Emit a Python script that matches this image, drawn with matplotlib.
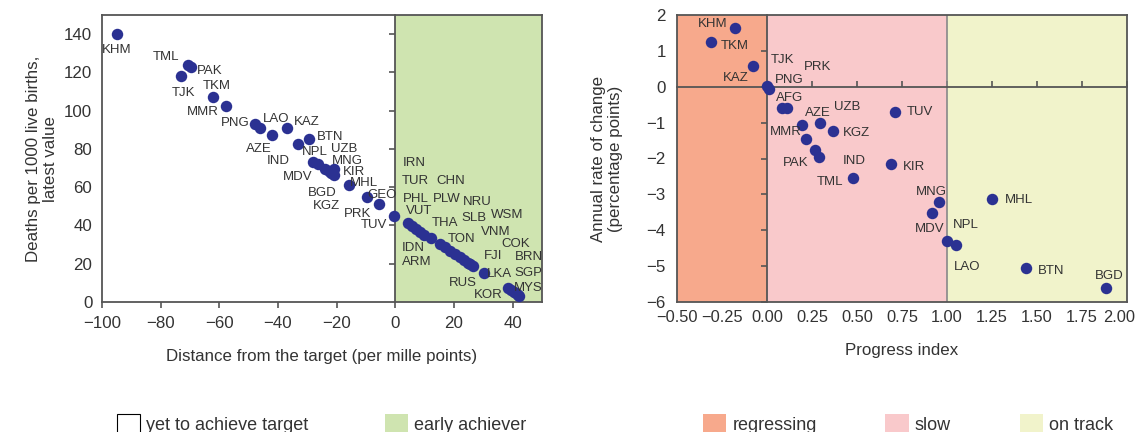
import numpy as np
import matplotlib.pyplot as plt
from matplotlib.patches import Patch
from matplotlib.ticker import FuncFormatter
from matplotlib.transforms import ScaledTranslation

plt.rcParams['font.family'] = ['Liberation Sans', 'DejaVu Sans']

# Left panel: distance from the target vs latest value
iso_l = ["KHM", "TML", "PAK", "TJK", "TKM", "MMR", "PNG", "AZE", "LAO", "KAZ",
         "NPL", "BTN", "IND", "MDV", "MNG", "BGD", "UZB", "KIR", "KGZ", "MHL",
         "GEO", "PRK", "TUV",
         "VUT", "PHL", "IDN", "ARM", "IRN", "THA", "TON", "TUR", "CHN", "PLW",
         "NRU", "SLB", "WSM", "FJI", "VNM", "LKA", "COK", "RUS", "KOR", "SGP",
         "BRN", "MYS"]
dist_l = [-94.9, -70.6, -69.6, -73.0, -62.1, -57.6, -48.0, -46.0, -41.9, -36.8,
          -33.3, -29.6, -27.9, -26.5, -24.1, -22.7, -21.0, -21.0, -22.1, -15.9,
          -9.7, -5.6, -0.3,
          4.3, 5.6, 7.0, 8.4, 9.7, 12.1, 15.2, 16.9, 18.6, 20.3,
          22.1, 23.4, 24.8, 25.5, 26.5, 30.3, 38.5, 39.5, 40.5, 41.2,
          41.9, 42.2]
death_l = [140.0, 123.8, 122.8, 118.1, 107.1, 102.4, 93.0, 90.9, 87.3, 90.9,
           82.5, 85.2, 73.1, 72.1, 69.5, 68.4, 69.5, 66.4, 67.4, 61.1,
           54.9, 51.2, 44.9,
           41.3, 39.7, 38.1, 36.6, 35.0, 33.4, 30.3, 28.7, 26.6, 25.1,
           23.5, 21.9, 20.4, 19.9, 18.8, 15.2, 7.3, 6.3, 5.2, 4.7,
           3.7, 3.1]

# Right panel: progress index vs annual rate of change
iso_r = ["KHM", "TKM", "KAZ", "PNG", "TJK", "AFG", "UZB", "MMR", "AZE", "KGZ",
         "PRK", "PAK", "IND", "TML", "KIR", "TUV", "MNG", "MDV", "NPL", "LAO",
         "MHL", "BTN", "BGD"]
prog_r = [-0.178, -0.311, -0.078, 0.000, 0.011, 0.083, 0.111, 0.194, 0.294, 0.367,
          0.217, 0.267, 0.289, 0.478, 0.689, 0.711, 0.956, 0.917, 1.000, 1.050,
          1.250, 1.439, 1.883]
rate_r = [1.64, 1.24, 0.57, 0.01, -0.07, -0.60, -0.60, -1.08, -1.02, -1.22,
          -1.47, -1.75, -1.97, -2.53, -2.14, -0.71, -3.20, -3.51, -4.29, -4.41,
          -3.12, -5.05, -5.61]

# label offsets from the dot, in pixels
off_l = {"KHM": (0, -16), "TML": (-22, 8), "PAK": (19, -4), "TJK": (2, -17),
         "TKM": (4, 11), "MMR": (-24, -6), "PNG": (-19, 1), "AZE": (-2, -21),
         "LAO": (4, 16), "KAZ": (19, 6), "NPL": (17, -8), "BTN": (22, 2),
         "IND": (-35, 1), "MDV": (-20, -13), "MNG": (23, 8), "BGD": (-6, -22),
         "UZB": (10, 20), "KIR": (20, 3), "KGZ": (-4, -33), "MHL": (15, 2),
         "GEO": (15, 2), "PRK": (-21, -10), "TUV": (-21, -9),
         "VUT": (11, 12), "PHL": (4, 27), "IDN": (-3, -19), "ARM": (-3, -30),
         "IRN": (-10, 72), "THA": (14, 15), "TON": (22, 5), "TUR": (-30, 66),
         "CHN": (1, 70), "PLW": (-8, 55), "NRU": (17, 55), "SLB": (10, 42),
         "WSM": (39, 48), "FJI": (23, 8), "VNM": (23, 34), "LKA": (15, -1),
         "COK": (7, 44), "RUS": (-48, 7), "KOR": (-26, -3), "SGP": (12, 20),
         "BRN": (11, 38), "MYS": (9, 8)}
off_r = {"KHM": (-22, 4), "TKM": (24, -4), "TJK": (14, 29), "PRK": (12, 72),
         "KAZ": (-17, -12), "PNG": (22, 6), "AFG": (8, 10), "UZB": (60, 1),
         "AZE": (-2, 10), "TUV": (25, 0), "MMR": (-16, -7), "KGZ": (23, -2),
         "PAK": (-19, -13), "IND": (35, -4), "TML": (-23, -4), "KIR": (23, -3),
         "MNG": (-8, 10), "MDV": (-2, -16), "NPL": (19, 16), "LAO": (11, -22),
         "MHL": (27, -1), "BTN": (25, -3), "BGD": (3, 12)}

dot = "#2b3192"
txt = "#333333"
edge = "#555555"
green = "#cfe4b0"
orange = "#f7a98c"
pink = "#f9c9cb"
yellow = "#f1f3cb"

fig = plt.figure(figsize=(11.36, 4.32), dpi=100)
W, H = 1136, 432


def panel(left, right, xlim, ylim):
    rect = [left / W, (H - 302) / H, (right - left) / W, 287 / H]
    bg = fig.add_axes(rect, zorder=0)
    ax = fig.add_axes(rect, zorder=1)
    for a in (bg, ax):
        a.set_xlim(xlim)
        a.set_ylim(ylim)
    ax.patch.set_visible(False)
    for s in ax.spines.values():
        s.set_color(edge)
        s.set_linewidth(1.3)
    bg.spines["top"].set_visible(False)
    bg.spines["right"].set_visible(False)
    bg.spines["left"].set_position(("data", 0))
    bg.spines["left"].set_color(edge)
    bg.spines["left"].set_linewidth(1.3)
    bg.tick_params(labelleft=False, labelbottom=False, color=edge,
                   width=1.2, length=4)
    bg.tick_params(axis="y", direction="out")
    ax.tick_params(colors=txt, labelsize=12.2, color=edge)
    return bg, ax


# ---- left panel
bg1, ax1 = panel(102, 542, (-100, 50), (0, 150))
bg1.axvspan(0, 50, color=green, lw=0)
bg1.spines["bottom"].set_visible(False)
bg1.set_xticks([])
bg1.set_yticks(np.arange(20, 141, 20))
ax1.set_xticks(np.arange(-100, 41, 20))
ax1.set_yticks(np.arange(0, 141, 20))
ax1.tick_params(axis="y", length=0, pad=7)
ax1.tick_params(axis="x", length=4, width=1.2, pad=6)
ax1.xaxis.set_major_formatter(FuncFormatter(lambda v, p: f"{v:g}".replace("-", "\u2212")))
ax1.scatter(dist_l, death_l, s=68, color=dot, lw=0, zorder=3)
for c, x, y in zip(iso_l, dist_l, death_l):
    ax1.annotate(c, (x, y), xytext=off_l[c], textcoords="offset pixels",
                 ha="center", va="center", fontsize=9.5, color=txt)
ax1.set_xlabel("Distance from the target (per mille points)", fontsize=12.2,
               color=txt, labelpad=13)
ax1.set_ylabel("Deaths per 1000 live births,\nlatest value", fontsize=12.2,
               color=txt, labelpad=4)

# ---- right panel
bg2, ax2 = panel(677, 1127, (-0.5, 2.0), (-6, 2))
bg2.axvspan(-0.5, 0, color=orange, lw=0)
bg2.axvspan(0, 1, color=pink, lw=0)
bg2.axvspan(1, 2, color=yellow, lw=0)
bg2.axvline(1, color="#888888", lw=1.2)
bg2.spines["bottom"].set_position(("data", 0))
bg2.spines["bottom"].set_color(edge)
bg2.spines["bottom"].set_linewidth(1.3)
bg2.set_xticks(np.arange(0.25, 2.01, 0.25))
bg2.set_yticks(np.arange(-6, 2, 1))
bg2.tick_params(axis="x", direction="in")
ax2.set_xticks(np.arange(-0.5, 2.01, 0.25))
ax2.set_yticks(np.arange(-6, 3, 1))
ax2.tick_params(length=0)
ax2.tick_params(axis="y", pad=8)
ax2.tick_params(axis="x", pad=6, labelsize=11.8)
ax2.xaxis.set_major_formatter(FuncFormatter(lambda v, p: f"{v:.2f}".replace("-", "\u2212")))
ax2.yaxis.set_major_formatter(FuncFormatter(lambda v, p: f"{v:g}".replace("-", "\u2212")))
# last label sits a little inside the frame, as in the original
lab = ax2.xaxis.get_major_ticks()[-1].label1
lab.set_transform(lab.get_transform() + ScaledTranslation(-0.08, 0, fig.dpi_scale_trans))
ax2.scatter(prog_r, rate_r, s=68, color=dot, lw=0, zorder=3)
for c, x, y in zip(iso_r, prog_r, rate_r):
    ax2.annotate(c, (x, y), xytext=off_r[c], textcoords="offset pixels",
                 ha="center", va="center", fontsize=9.5, color=txt)
ax2.set_xlabel("Progress index", fontsize=12.2, color=txt, labelpad=13)
ax2.set_ylabel("Annual rate of change\n(percentage points)", fontsize=12.2,
               color=txt, labelpad=17)

# ---- legends
leg_kw = dict(loc="lower left", ncol=3, frameon=False, fontsize=13,
              handlelength=1.28, handleheight=1.28, handletextpad=0.35,
              borderpad=0, borderaxespad=0, labelcolor=txt)
fig.legend(handles=[Patch(facecolor="white", edgecolor="black", lw=0.8,
                          label="yet to achieve target"),
                    Patch(facecolor=green, label="early achiever")],
           bbox_to_anchor=(117 / W, -0.004), columnspacing=4.2, **leg_kw)
fig.legend(handles=[Patch(facecolor=orange, label="regressing"),
                    Patch(facecolor=pink, label="slow"),
                    Patch(facecolor=yellow, label="on track")],
           bbox_to_anchor=(703 / W, -0.004), columnspacing=3.8, **leg_kw)

fig.savefig("out.png", dpi=100)
